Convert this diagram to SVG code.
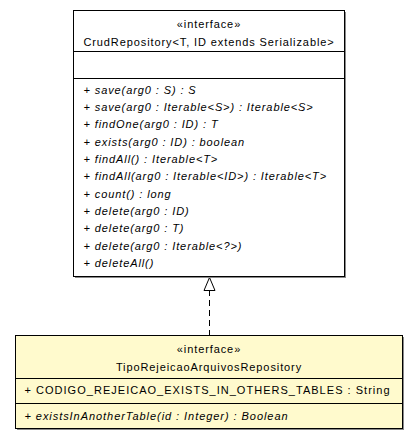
<svg xmlns="http://www.w3.org/2000/svg" width="419" height="440" viewBox="0 0 419 440">
<style>
text{font-family:"Liberation Sans",Arial,sans-serif;font-size:11px;fill:#000;letter-spacing:0.9px}
.c{text-anchor:middle}
.i{font-style:italic}
.box{stroke:#000;stroke-width:1}
.sh{fill:#8a8a8a}
.sep{stroke:#000;stroke-width:1}
.conn{stroke:#000;stroke-width:1;fill:none}
</style>
<g id="connectors">
<line class="conn" x1="209.5" y1="336" x2="209.5" y2="290" stroke-dasharray="6,4"/>
<path d="M209.5,277.5 L215,290.5 L204,290.5 Z" fill="#fff" stroke="#000" stroke-width="1"/>
</g>
<g id="CrudRepository">
<rect class="sh" x="75" y="12" width="271" height="266"/>
<rect class="box" x="73.5" y="10.5" width="271" height="266" fill="#fff"/>
<line class="sep" x1="73.5" y1="51.5" x2="344.5" y2="51.5"/>
<line class="sep" x1="73.5" y1="78.5" x2="344.5" y2="78.5"/>
<text class="c" x="209" y="27.5">«interface»</text>
<text class="c" x="209" y="46">CrudRepository&lt;T, ID extends Serializable&gt;</text>
<text class="i" x="83.5" y="93.5">+ save(arg0 : S) : S</text>
<text class="i" x="83.5" y="110.9">+ save(arg0 : Iterable&lt;S&gt;) : Iterable&lt;S&gt;</text>
<text class="i" x="83.5" y="128.2">+ findOne(arg0 : ID) : T</text>
<text class="i" x="83.5" y="145.6">+ exists(arg0 : ID) : boolean</text>
<text class="i" x="83.5" y="162.9">+ findAll() : Iterable&lt;T&gt;</text>
<text class="i" x="83.5" y="180.3">+ findAll(arg0 : Iterable&lt;ID&gt;) : Iterable&lt;T&gt;</text>
<text class="i" x="83.5" y="197.6">+ count() : long</text>
<text class="i" x="83.5" y="215">+ delete(arg0 : ID)</text>
<text class="i" x="83.5" y="232.3">+ delete(arg0 : T)</text>
<text class="i" x="83.5" y="249.7">+ delete(arg0 : Iterable&lt;?&gt;)</text>
<text class="i" x="83.5" y="267">+ deleteAll()</text>
</g>
<g id="TipoRejeicaoArquivosRepository">
<rect class="sh" x="17" y="337" width="387" height="93"/>
<rect class="box" x="15.5" y="335.5" width="387" height="93" fill="#FFFACD"/>
<line class="sep" x1="15.5" y1="378.5" x2="402.5" y2="378.5"/>
<line class="sep" x1="15.5" y1="403.5" x2="402.5" y2="403.5"/>
<text class="c" x="209" y="353">«interface»</text>
<text class="c" x="209" y="370.5">TipoRejeicaoArquivosRepository</text>
<text x="24.5" y="394" textLength="366" lengthAdjust="spacing">+ CODIGO_REJEICAO_EXISTS_IN_OTHERS_TABLES : String</text>
<text class="i" x="24.5" y="419.5" textLength="264" lengthAdjust="spacing">+ existsInAnotherTable(id : Integer) : Boolean</text>
</g>
</svg>
